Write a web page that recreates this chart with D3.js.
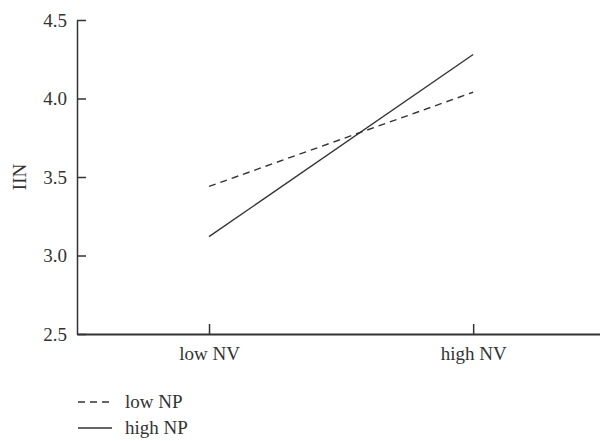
<!DOCTYPE html>
<meta charset="utf-8">
<style>
  body { margin: 0; background: #fff; }
</style>
<script src="https://d3js.org/d3.v7.min.js"></script>
<div id="chart"></div>
<script>
// data
var categories = ["low NV", "high NV"];
var lowNP = [3.44, 4.04];
var highNP = [3.12, 4.28];
var yTicks = [2.5, 3.0, 3.5, 4.0, 4.5];
var seriesNames = ["low NP", "high NP"];

var width = 600, height = 441;
var plot = {left: 77, right: 600, top: 20, bottom: 334};
var ink = "#333";
var fontSize = "19px";
var serif = "'Liberation Serif', 'Times New Roman', 'DejaVu Serif', serif";

var svg = d3.select("#chart").append("svg")
  .attr("width", width)
  .attr("height", height)
  .style("font-family", serif);

var x = d3.scalePoint()
  .domain(categories)
  .range([plot.left, plot.right])
  .padding(0.49)
  .align(0.51);

var y = d3.scaleLinear()
  .domain([2.5, 4.5])
  .range([plot.bottom, plot.top]);

// y axis, ticks pointing inwards
var yAxis = svg.append("g")
  .attr("transform", "translate(" + plot.left + ",0)")
  .call(d3.axisLeft(y).tickValues(yTicks).tickFormat(d3.format(".1f"))
    .tickSizeInner(-9).tickSizeOuter(0).tickPadding(10));
yAxis.attr("font-family", null).attr("font-size", null);
yAxis.selectAll("text").style("font-family", serif).style("font-size", fontSize).attr("fill", ink);
yAxis.selectAll("line").attr("stroke", ink).attr("stroke-width", 1.5);
yAxis.select(".domain").attr("stroke", ink).attr("stroke-width", 1.5);

// x axis
var xAxis = svg.append("g")
  .attr("transform", "translate(0," + plot.bottom + ")")
  .call(d3.axisBottom(x).tickSizeInner(-10).tickSizeOuter(0).tickPadding(13));
xAxis.attr("font-family", null).attr("font-size", null);
xAxis.selectAll("text").style("font-family", serif).style("font-size", fontSize).attr("fill", ink);
xAxis.selectAll("line").attr("stroke", ink).attr("stroke-width", 1.5);
xAxis.select(".domain").attr("stroke", ink).attr("stroke-width", 2);

// y axis title
svg.append("text")
  .attr("transform", "translate(26," + ((plot.top + plot.bottom) / 2) + ")rotate(-90)")
  .attr("text-anchor", "middle")
  .attr("fill", ink)
  .style("font-family", serif)
  .style("font-size", fontSize)
  .text("IIN");

// lines
var line = d3.line()
  .x(function (d, i) { return x(categories[i]); })
  .y(function (d) { return y(d); });

var dashes = ["7,5", null];
[lowNP, highNP].forEach(function (s, k) {
  svg.append("path")
    .datum(s)
    .attr("d", line)
    .attr("fill", "none")
    .attr("stroke", ink)
    .attr("stroke-width", 1.4)
    .attr("stroke-dasharray", dashes[k]);
});

// legend
var legend = svg.append("g").attr("transform", "translate(78,402)");
seriesNames.forEach(function (name, k) {
  var g = legend.append("g").attr("transform", "translate(0," + (k * 26) + ")");
  g.append("line")
    .attr("x1", 0).attr("x2", 34)
    .attr("y1", 0).attr("y2", 0)
    .attr("stroke", ink)
    .attr("stroke-width", 1.4)
    .attr("stroke-dasharray", dashes[k]);
  g.append("text")
    .attr("x", 47)
    .attr("y", 6)
    .attr("fill", ink)
    .style("font-family", serif)
    .style("font-size", fontSize)
    .text(name);
});
</script>
